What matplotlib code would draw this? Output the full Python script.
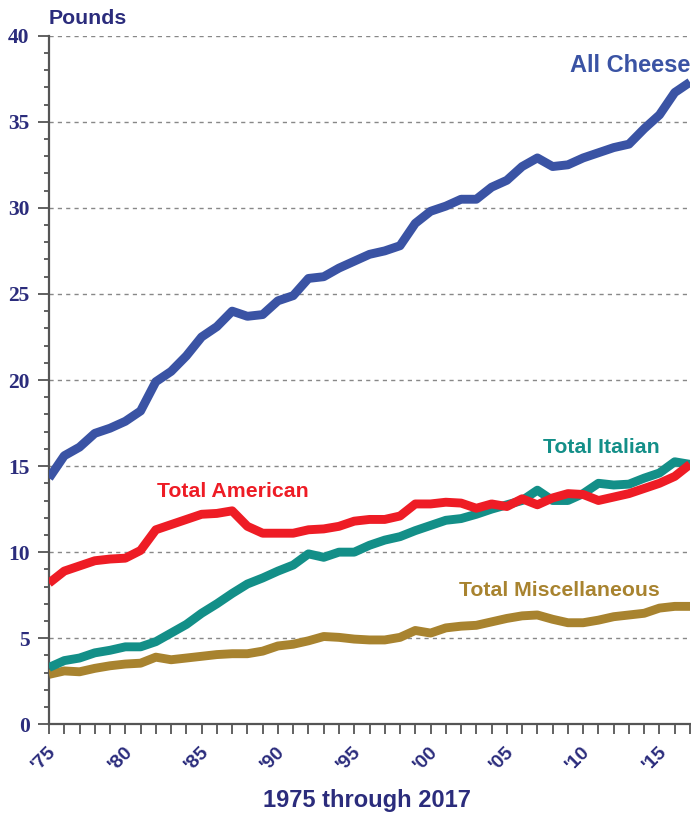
import matplotlib
matplotlib.use("Agg")
import matplotlib.pyplot as plt
from matplotlib.ticker import MultipleLocator
from matplotlib.transforms import ScaledTranslation

# Per capita cheese consumption, pounds, 1975 through 2017
years = list(range(1975, 2018))

all_cheese = [14.3, 15.6, 16.1, 16.9, 17.2, 17.6, 18.2, 19.9, 20.5, 21.4,
              22.5, 23.1, 24.0, 23.7, 23.8, 24.6, 24.9, 25.9, 26.0, 26.5,
              26.9, 27.3, 27.5, 27.8, 29.1, 29.8, 30.1, 30.5, 30.5, 31.2,
              31.6, 32.4, 32.9, 32.4, 32.5, 32.9, 33.2, 33.5, 33.7, 34.6,
              35.4, 36.7, 37.3]

total_american = [8.2, 8.9, 9.2, 9.5, 9.6, 9.65, 10.1, 11.3, 11.6, 11.9,
                  12.2, 12.25, 12.4, 11.5, 11.1, 11.1, 11.1, 11.3, 11.35, 11.5,
                  11.8, 11.9, 11.9, 12.1, 12.8, 12.8, 12.9, 12.85, 12.55, 12.8,
                  12.65, 13.1, 12.75, 13.15, 13.4, 13.35, 13.0, 13.2, 13.4, 13.7,
                  14.0, 14.4, 15.1]

total_italian = [3.3, 3.7, 3.85, 4.15, 4.3, 4.5, 4.5, 4.8, 5.3, 5.8,
                 6.45, 7.0, 7.6, 8.15, 8.5, 8.9, 9.25, 9.9, 9.7, 10.0,
                 10.0, 10.4, 10.7, 10.9, 11.25, 11.55, 11.85, 11.95, 12.2, 12.5,
                 12.75, 13.0, 13.6, 13.0, 13.0, 13.4, 14.0, 13.9, 13.95, 14.3,
                 14.6, 15.25, 15.1]

total_misc = [2.9, 3.1, 3.05, 3.25, 3.4, 3.5, 3.55, 3.9, 3.75, 3.85,
              3.95, 4.05, 4.1, 4.1, 4.25, 4.55, 4.65, 4.85, 5.1, 5.05,
              4.95, 4.9, 4.9, 5.05, 5.45, 5.3, 5.6, 5.7, 5.75, 5.95,
              6.15, 6.3, 6.35, 6.1, 5.9, 5.9, 6.05, 6.25, 6.35, 6.45,
              6.75, 6.85, 6.85]

tick_years = [1975, 1980, 1985, 1990, 1995, 2000, 2005, 2010, 2015]
tick_labels = ["'75", "'80", "'85", "'90", "'95", "'00", "'05", "'10", "'15"]

navy = "#2b2c7c"
blue = "#3a53a4"
red = "#ee1c25"
teal = "#138f88"
gold = "#a8832f"
sans = "Liberation Sans"
serif = "Liberation Serif"

fig = plt.figure(figsize=(6.91, 8.17), dpi=100)
ax = fig.add_axes([49 / 691, 92.7 / 817, 641 / 691, 688.6 / 817])

lw = 6.4
ax.plot(years, total_misc, color=gold, lw=lw, solid_capstyle="butt", zorder=3)
ax.plot(years, total_italian, color=teal, lw=lw, solid_capstyle="butt", zorder=4)
ax.plot(years, total_american, color=red, lw=lw, solid_capstyle="butt", zorder=5)
ax.plot(years, all_cheese, color=blue, lw=lw, solid_capstyle="butt", zorder=6)

ax.set_xlim(1975, 2017)
ax.set_ylim(0, 40)

# y axis: major every 5, minor every 1
ax.yaxis.set_major_locator(MultipleLocator(5))
ax.yaxis.set_minor_locator(MultipleLocator(1))
ax.tick_params(axis="y", which="major", length=8, width=1.3, color="#555555",
               direction="out", pad=6, labelsize=15.5, labelcolor=navy)
ax.tick_params(axis="y", which="minor", length=3.8, width=1.3, color="#555555",
               direction="out")
for lab in ax.get_yticklabels():
    lab.set_fontfamily(serif)
    lab.set_fontweight("bold")

# x axis: tick every year, label every five
ax.xaxis.set_minor_locator(MultipleLocator(1))
ax.set_xticks(tick_years)
ax.set_xticklabels(tick_labels, rotation=45, ha="right", va="center",
                   rotation_mode="anchor", fontfamily=sans, fontweight="bold",
                   fontsize=14, color=navy)
ax.tick_params(axis="x", which="both", length=7, width=1.3, color="#555555",
               direction="out", pad=11)
# nudge the slanted labels a little to the right, like the original
shift = ScaledTranslation(0.045, 0, fig.dpi_scale_trans)
for lab in ax.get_xticklabels():
    lab.set_transform(lab.get_transform() + shift)

for side in ["top", "right"]:
    ax.spines[side].set_visible(False)
for side in ["left", "bottom"]:
    ax.spines[side].set_color("#555555")
    ax.spines[side].set_linewidth(1.6)

ax.yaxis.grid(True, which="major", color="#888888", linestyle=(0, (3, 3)), lw=1)
ax.set_axisbelow(True)

# series labels
ax.text(2017, 38.25, "All Cheese", color=blue, fontsize=17, fontweight="bold",
        fontfamily=sans, ha="right", va="center")
ax.text(2015.0, 16.1, "Total Italian", color=teal, fontsize=15.3, fontweight="bold",
        fontfamily=sans, ha="right", va="center")
ax.text(1992.0, 13.55, "Total American", color=red, fontsize=15.3, fontweight="bold",
        fontfamily=sans, ha="right", va="center")
ax.text(2015.0, 7.8, "Total Miscellaneous", color=gold, fontsize=15.3, fontweight="bold",
        fontfamily=sans, ha="right", va="center")

fig.text(49 / 691, 1 - 18 / 817, "Pounds", color=navy, fontsize=15.3, fontweight="bold",
         fontfamily=sans, ha="left", va="center")
fig.text(367 / 691, 1 - 801 / 817, "1975 through 2017", color=navy, fontsize=17,
         fontweight="bold", fontfamily=sans, ha="center", va="center")

fig.savefig("out.png", dpi=100)
